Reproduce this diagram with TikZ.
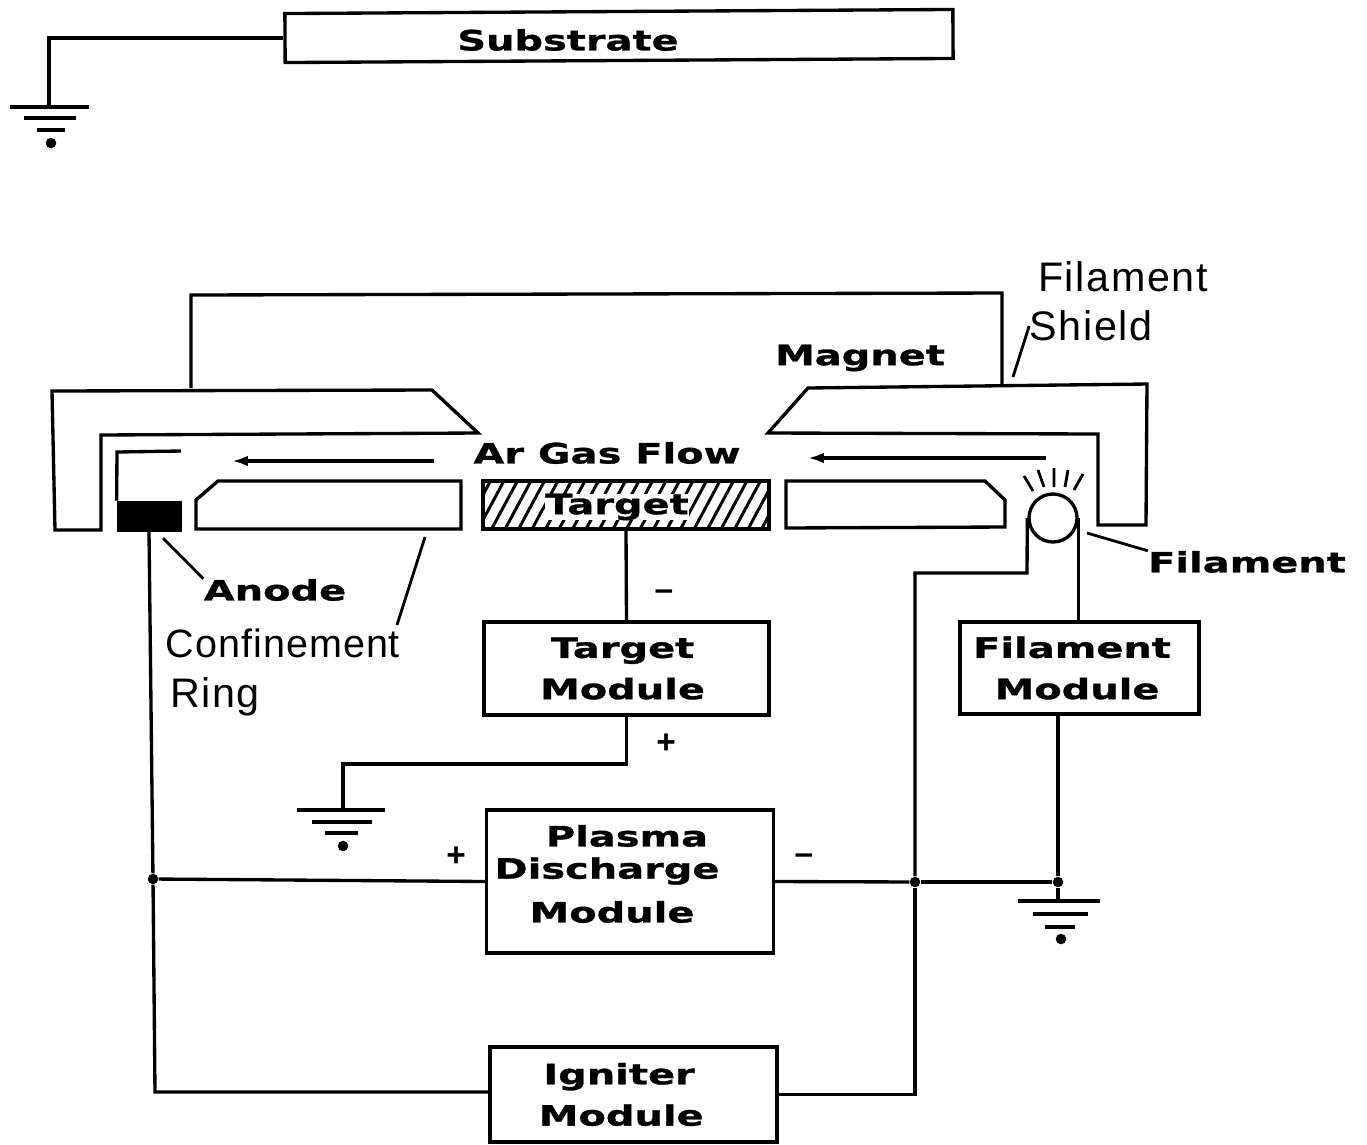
\documentclass[tikz,border=0pt]{standalone}
\usepackage{fontspec}
\setmainfont{Liberation Sans}
\newfontfamily\blabfont[FakeStretch=1.42,FakeBold=1]{DejaVu Sans}
\newfontfamily\thinfont[LetterSpace=4]{Liberation Sans}
\newfontfamily\tightfont[LetterSpace=2.5]{Liberation Sans}
\usetikzlibrary{arrows.meta}
\tikzset{
  ln/.style={line width=1.9pt,line join=miter,black},
  box/.style={draw,line width=1.9pt,inner sep=0pt,align=center,font=\blabfont\bfseries\fontsize{16}{23.5}\selectfont},
  wh/.style 2 args={minimum width=#1*0.02cm,minimum height=#2*0.02cm},
  blab/.style={inner sep=0pt,font=\blabfont\bfseries\fontsize{16}{18}\selectfont},
  thin/.style={inner sep=0pt,font=\thinfont\fontsize{23.5}{26}\selectfont},
  dot/.style={circle,fill=black,inner sep=0pt,minimum size=6pt},
  gnddot/.style={circle,fill=black,inner sep=0pt,minimum size=6pt},
  flow/.style={line width=1.8pt,-{Latex[length=9pt,width=6pt]}},
  lead/.style={line width=1.6pt},
  sign/.style={inner sep=0pt,font=\bfseries\fontsize{19}{20}\selectfont},
}
\begin{document}
\begin{tikzpicture}[x=0.02cm,y=-0.02cm]
\useasboundingbox (0,0) rectangle (1367,1144);

% hatching of the target
\begin{scope}
\clip (483,481) rectangle (769,529);
\foreach \h in {450,463.5,...,790}
  \draw[line width=1.7pt] (\h,531) -- (\h+28,479);
\end{scope}

% boxes
\node[box,wh={668}{49},rotate=0.35] (sub) at (619,36) {};
\node[box,wh={286}{48}] (tgt) at (626,505) {};
\node[box,wh={285}{93}] (tm) at (626.5,668.5) {\hspace*{-4.5pt}Target\\\hspace*{-4.5pt}Module};
\node[box,wh={239}{92}] (fm) at (1079.5,668) {\hspace*{-8.5pt}Filament\\\hspace*{-2.8pt}Module};
\node[box,wh={287}{143}] (pm) at (630,881.5) {};
\node[box,wh={287}{95}] (im) at (633.5,1094.5) {\hspace*{-16.4pt}Igniter\\\hspace*{-14pt}Module};
\node[draw,fill=black,inner sep=0pt,wh={64}{30}] (anode) at (149,516) {};
\node[circle,draw,line width=1.9pt,inner sep=0pt,minimum size=48*0.02cm] (fil) at (1053,518) {};

% magnet and shield
\draw[ln] (191,388) -- (191,295) -- (1002,293) -- (1002,385);
\draw[ln] (432,390) -- (52,391) -- (55,530) -- (101,530) -- (101,435) -- (478,433) -- cycle;
\draw[ln] (808,388) -- (1147,384) -- (1146,525) -- (1098,525) -- (1098,434) -- (768,433) -- cycle;

% confinement ring
\draw[ln] (196,500) -- (218,481) -- (461,481) -- (461,529) -- (196,529) -- cycle;
\draw[ln] (786,481) -- (985,481) -- (1005,500) -- (1005,527) -- (786,528) -- cycle;

% anode wire
\coordinate (aw) at (181,451);
\draw[ln] (aw) -- (117,452) -- (anode.north west);

% filament rays
\draw[lead] (1024,476) -- (1033,491) (1038,470) -- (1044,487) (1054,468) -- (1054,487) (1068,470) -- (1065,487) (1083,474) -- (1074,490);

% ground symbols
\coordinate (g1) at (49,107);
\coordinate (g2) at (343,810);
\coordinate (g3) at (1058,901);
\draw[ln] (10,107) -- (89,107) (24,118) -- (76,118) (37,130) -- (65,130);
\draw[ln] (297,810) -- (385,810) (312,822) -- (372,822) (325,833) -- (358,833);
\draw[ln] (1018,901) -- (1100,901) (1033,914) -- (1088,914) (1045,927) -- (1075,927);
\node[gnddot] (gd1) at (51,143) {};
\node[gnddot] (gd2) at (343,846) {};
\node[gnddot] (gd3) at (1061,939) {};

% junctions
\node[dot] (j1) at (153,879) {};
\node[dot] (j2) at (915,882) {};
\node[dot] (j3) at (1058,882) {};
\coordinate (c1) at (155,1092);

% connectors
\draw[ln] (sub.west) -| (g1);
\draw[ln] (anode.south) -- (j1);
\draw[ln] (j1) -- (c1) -- (im.west |- c1);
\draw[ln] (j1) -- (pm.west);
\draw[ln] (pm.east) -- (j2);
\draw[ln] (j2) -- (j3);
\draw[ln] (j3) -- (g3);
\draw[ln] (tgt.south) -- (tm.north);
\draw[ln] (tm.south) |- (g2 |- 0,764) -- (g2);
\draw[ln] (fil.west) -- (1027,573) -- (915,573) -- (j2);
\draw[ln] (j2) |- (im.east);
\draw[ln] (fil.east) -- (fil.east |- fm.north);
\draw[ln] (fm.south -| j3) -- (j3);

% gas flow arrows
\coordinate (a1s) at (434,461); \coordinate (a1e) at (232,461);
\coordinate (a2s) at (1046,458); \coordinate (a2e) at (808,458);
\draw[flow] (a1s) -- (a1e);
\draw[flow] (a2s) -- (a2e);

% labels
\node[blab] (lsub) at (568,40) {Substrate};
\node[blab] (lmag) at (860,358) {Magnet};
\node[blab] (lgas) at (607,453) {Ar Gas Flow};
\node[blab,fill=white] (ltgt) at (617,507) {Target};
\node[blab] (lan) at (275,590) {Anode};
\node[blab] (lfil) at (1247,562) {Filament};
\node[blab] (lp1) at (627,836) {Plasma};
\node[blab] (lp2) at (607,871) {Discharge};
\node[blab] (lp3) at (612,912) {Module};
\node[inner sep=0pt,font=\tightfont\fontsize{22.5}{26}\selectfont] (lcr1) at (283,643) {Confinement};
\node[thin] (lcr2) at (215,697) {Ring};
\node[thin] (lfs1) at (1123,277) {Filament};
\node[thin] (lfs2) at (1091,326) {Shield};
\node[sign] (s1) at (664,595) {–};
\node[sign] (s2) at (666,744) {+};
\node[sign] (s3) at (456,857) {+};
\node[sign] (s4) at (804,859) {–};

% leaders
\draw[lead] (163,538) -- (lan.north west);
\draw[lead] (425,537) -- (397,625);
\draw[lead] (1013,377) -- (lfs2.west);
\draw[lead] (1087,533) -- (lfil.north west);
\end{tikzpicture}
\end{document}
